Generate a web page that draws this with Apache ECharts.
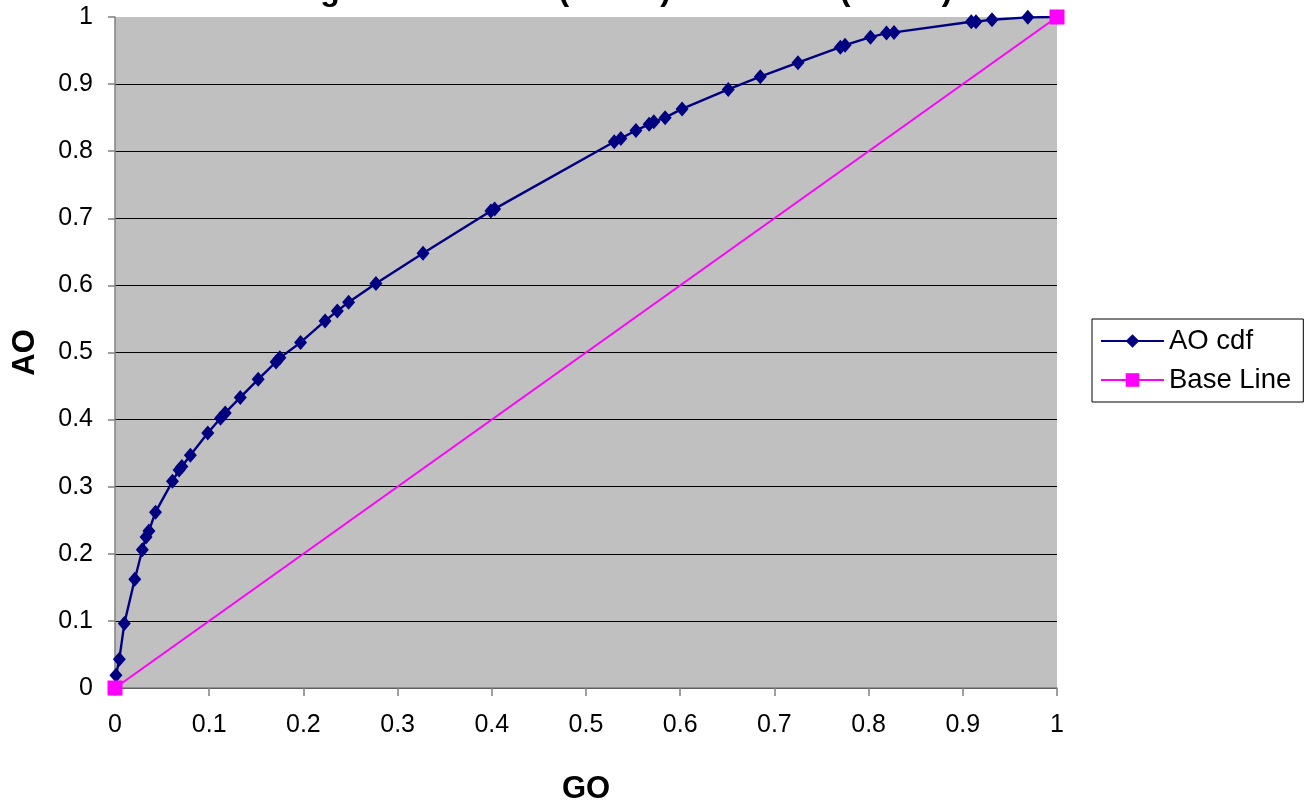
<!DOCTYPE html>
<html>
<head>
<meta charset="utf-8">
<script src="https://cdn.jsdelivr.net/npm/echarts@6/dist/echarts.min.js"></script>
<style>
  html, body { margin: 0; padding: 0; background: #ffffff; }
  #chart { width: 1313px; height: 805px; }
</style>
</head>
<body>
<div id="chart"></div>
<script>
// ---- Data ----
var titleText = "Figure 2 - AO cdf (T&H's) vs GO cdf (T&H's)";
var xAxisName = "GO";
var yAxisName = "AO";
var seriesNames = ["AO cdf", "Base Line"];

// AO cdf: GO value (x) and AO value (y)
var aoCdfGO = [0.001, 0.0046, 0.0099, 0.021, 0.029, 0.033, 0.036, 0.043, 0.061, 0.068,
               0.071, 0.080, 0.0985, 0.112, 0.117, 0.133, 0.152, 0.171, 0.175, 0.197,
               0.223, 0.236, 0.248, 0.277, 0.327, 0.399, 0.403, 0.530, 0.537, 0.553,
               0.567, 0.572, 0.584, 0.602, 0.651, 0.685, 0.725, 0.770, 0.775, 0.802,
               0.819, 0.827, 0.909, 0.914, 0.931, 0.969, 1.0];
var aoCdfAO = [0.019, 0.043, 0.096, 0.162, 0.206, 0.225, 0.234, 0.262, 0.308, 0.325,
               0.330, 0.347, 0.380, 0.402, 0.410, 0.433, 0.460, 0.486, 0.492, 0.515,
               0.547, 0.562, 0.575, 0.603, 0.648, 0.711, 0.714, 0.814, 0.819, 0.831,
               0.840, 0.844, 0.850, 0.863, 0.892, 0.911, 0.932, 0.955, 0.958, 0.970,
               0.976, 0.977, 0.993, 0.993, 0.996, 0.9995, 1.0];

// Base Line
var baseGO = [0, 1];
var baseAO = [0, 1];

// Axis ticks
var axisMin = 0, axisMax = 1, axisStep = 0.1;

function zip(a, b) { return a.map(function (v, i) { return [v, b[i]]; }); }

var chart = echarts.init(document.getElementById('chart'), null, { renderer: 'canvas' });

var FONT = 'Liberation Sans, Arial, sans-serif';
var gridColors = [];
for (var i = 0; i <= 10; i++) gridColors.push(i === 10 ? 'rgba(0,0,0,0)' : '#000000');

var option = {
  animation: false,
  backgroundColor: '#ffffff',
  title: {
    text: titleText,
    left: 617,
    textAlign: 'center',
    top: -30,
    textStyle: { fontFamily: FONT, fontSize: 32, fontWeight: 'bold', color: '#000' }
  },
  grid: {
    left: 115, right: 256, top: 17, bottom: 117,
    containLabel: false,
    outerBoundsMode: 'none',
    show: true, backgroundColor: '#C0C0C0', borderWidth: 0
  },
  legend: {
    orient: 'vertical',
    left: 1092, top: 319,
    padding: [8, 12, 8, 8],
    itemGap: 11,
    itemWidth: 63, itemHeight: 17,
    itemTextGap: 7,
    borderColor: '#000', borderWidth: 1,
    backgroundColor: '#ffffff',
    textStyle: { fontFamily: FONT, fontSize: 27.5, color: '#000' },
    data: seriesNames
  },
  xAxis: {
    type: 'value', min: axisMin, max: axisMax, interval: axisStep,
    name: xAxisName, nameLocation: 'middle', nameGap: 86,
    nameTextStyle: { fontFamily: FONT, fontSize: 31, fontWeight: 'bold', color: '#000' },
    axisLine: { show: true, onZero: false, lineStyle: { color: '#808080', width: 1.5 } },
    axisTick: { show: true, inside: false, length: 8, lineStyle: { color: '#808080', width: 1.5 } },
    axisLabel: { margin: 25, fontFamily: FONT, fontSize: 25, color: '#000' },
    splitLine: { show: false }
  },
  yAxis: {
    type: 'value', min: axisMin, max: axisMax, interval: axisStep,
    name: yAxisName, nameLocation: 'middle', nameGap: 74, nameRotate: 90,
    nameTextStyle: { fontFamily: FONT, fontSize: 31, fontWeight: 'bold', color: '#000' },
    axisLine: { show: true, onZero: false, lineStyle: { color: '#808080', width: 1.5 } },
    axisTick: { show: true, inside: false, length: 7, lineStyle: { color: '#808080', width: 1.5 } },
    axisLabel: { margin: 22, fontFamily: FONT, fontSize: 25, color: '#000' },
    splitLine: { show: true, lineStyle: { color: gridColors, width: 1 } }
  },
  series: [
    {
      name: seriesNames[0],
      type: 'line',
      data: zip(aoCdfGO, aoCdfAO),
      symbol: 'diamond',
      symbolSize: [13, 15],
      showAllSymbol: true,
      lineStyle: { color: '#000080', width: 2.4 },
      itemStyle: { color: '#000080', borderWidth: 0 },
      z: 2
    },
    {
      name: seriesNames[1],
      type: 'line',
      data: zip(baseGO, baseAO),
      symbol: 'rect',
      symbolSize: 15,
      lineStyle: { color: '#FF00FF', width: 2 },
      itemStyle: { color: '#FF00FF', borderWidth: 0 },
      z: 3
    }
  ]
};

chart.setOption(option);
</script>
</body>
</html>
